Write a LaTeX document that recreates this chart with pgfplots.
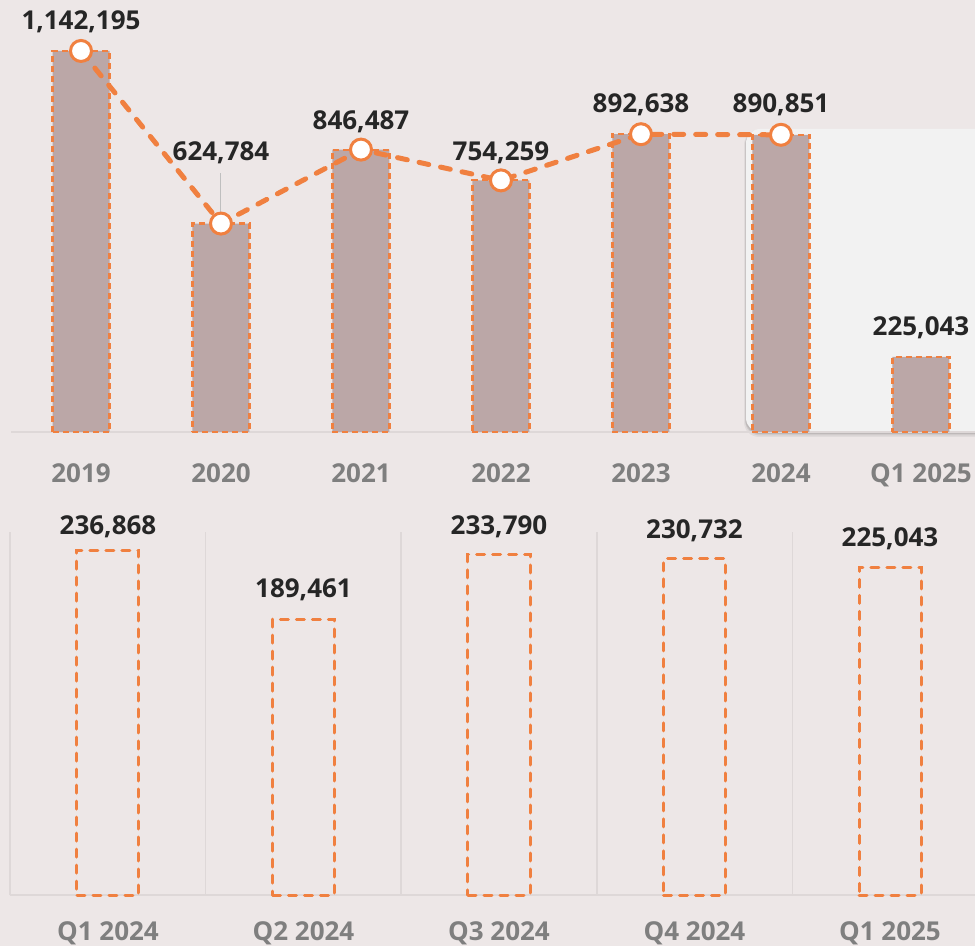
\documentclass[border=0pt]{standalone}
\usepackage{fontspec}
\setmainfont{Open Sans}
\usepackage{pgfplots}
\pgfplotsset{compat=1.18}
\definecolor{bg}{RGB}{237,231,231}
\definecolor{org}{RGB}{240,128,64}
\definecolor{barc}{RGB}{187,167,167}
\definecolor{panel}{RGB}{242,242,242}
\definecolor{tickc}{RGB}{127,127,127}
\definecolor{lab}{RGB}{38,38,38}
\definecolor{sep}{RGB}{222,216,216}
\newcommand{\lf}{\fontsize{26}{31}\selectfont\bfseries}
\begin{document}
\begin{tikzpicture}[x=1pt,y=1pt]
\fill[bg] (0,0) rectangle (975,946);
\path[use as bounding box] (0,0) rectangle (975,946);
% soft shadow of panel
\fill[black, opacity=0.05, rounded corners=15pt] (744,509) rectangle (1000,816);
\fill[black, opacity=0.07, rounded corners=15pt] (745,510.5) rectangle (1000,816);
\fill[black, opacity=0.09, rounded corners=14pt] (745.5,512) rectangle (1000,816.5);
\fill[panel, rounded corners=14pt] (746,514) rectangle (1000,817);
% ---------- top panel ----------
\begin{axis}[at={(0pt,514pt)}, anchor=south west, scale only axis,
  width=975pt, height=432pt, xmin=-0.5786, xmax=6.386, ymin=0, ymax=1295000,
  hide axis, clip=false]
\draw[sep, line width=1.5pt] (axis cs:-0.5,0) -- (axis cs:6.6,0);
\addplot[ybar, bar width=57pt, fill=barc, draw=org, line width=2.2pt, dash pattern=on 6pt off 4pt]
  coordinates {(0,1142195) (1,624784) (2,846487) (3,754259) (4,892638) (5,890851) (6,225043)};
\draw[gray!50, line width=1pt] ([yshift=2pt]axis cs:1,624784) -- ([yshift=51pt]axis cs:1,624784);
\addplot[org, line width=5pt, dash pattern=on 10pt off 12pt, line cap=round,
  mark=*, mark size=10.5pt, mark options={solid, fill=white, draw=org, line width=3pt}]
  coordinates {(0,1142195) (1,624784) (2,846487) (3,754259) (4,892638) (5,890851)};
\node[text=lab, font=\lf] at (axis cs:0,1142195) [yshift=29pt] {1,142,195};
\node[text=lab, font=\lf] at (axis cs:1,624784) [yshift=71pt] {624,784};
\node[text=lab, font=\lf] at (axis cs:2,846487) [yshift=28pt] {846,487};
\node[text=lab, font=\lf] at (axis cs:3,754259) [yshift=28pt] {754,259};
\node[text=lab, font=\lf] at (axis cs:4,892638) [yshift=29pt] {892,638};
\node[text=lab, font=\lf] at (axis cs:5,890851) [yshift=30pt] {890,851};
\node[text=lab, font=\lf] at (axis cs:6,225043) [yshift=29pt] {225,043};
\node[text=tickc, font=\lf, anchor=base] at (axis cs:0,0) [yshift=-51pt] {2019};
\node[text=tickc, font=\lf, anchor=base] at (axis cs:1,0) [yshift=-51pt] {2020};
\node[text=tickc, font=\lf, anchor=base] at (axis cs:2,0) [yshift=-51pt] {2021};
\node[text=tickc, font=\lf, anchor=base] at (axis cs:3,0) [yshift=-51pt] {2022};
\node[text=tickc, font=\lf, anchor=base] at (axis cs:4,0) [yshift=-51pt] {2023};
\node[text=tickc, font=\lf, anchor=base] at (axis cs:5,0) [yshift=-51pt] {2024};
\node[text=tickc, font=\lf, anchor=base] at (axis cs:6,0) [yshift=-51pt] {Q1 2025};
\end{axis}
% ---------- bottom panel ----------
\begin{axis}[at={(0pt,51pt)}, anchor=south west, scale only axis,
  width=975pt, height=405pt, xmin=-0.5524, xmax=4.4348, ymin=0, ymax=278070,
  hide axis, clip=false]
\draw[sep, line width=1.5pt] (axis cs:-0.5,0) -- (axis cs:4.6,0);
\draw[sep, line width=1.5pt] (axis cs:-0.5,0) -- (axis cs:-0.5,249000);
\draw[sep, line width=1.5pt] (axis cs:0.5,0) -- (axis cs:0.5,249000);
\draw[sep, line width=1.5pt] (axis cs:1.5,0) -- (axis cs:1.5,249000);
\draw[sep, line width=1.5pt] (axis cs:2.5,0) -- (axis cs:2.5,249000);
\draw[sep, line width=1.5pt] (axis cs:3.5,0) -- (axis cs:3.5,249000);
\addplot[ybar, bar width=62pt, fill=none, draw=org, line width=3pt, line cap=round, dash pattern=on 8pt off 8pt]
  coordinates {(0,236868) (1,189461) (2,233790) (3,230732) (4,225043)};
\node[text=lab, font=\lf] at (axis cs:0,236868) [yshift=23pt] {236,868};
\node[text=lab, font=\lf] at (axis cs:1,189461) [yshift=29pt] {189,461};
\node[text=lab, font=\lf] at (axis cs:2,233790) [yshift=28pt] {233,790};
\node[text=lab, font=\lf] at (axis cs:3,230732) [yshift=28pt] {230,732};
\node[text=lab, font=\lf] at (axis cs:4,225043) [yshift=28pt] {225,043};
\node[text=tickc, font=\lf, anchor=base] at (axis cs:0,0) [yshift=-45pt] {Q1 2024};
\node[text=tickc, font=\lf, anchor=base] at (axis cs:1,0) [yshift=-45pt] {Q2 2024};
\node[text=tickc, font=\lf, anchor=base] at (axis cs:2,0) [yshift=-45pt] {Q3 2024};
\node[text=tickc, font=\lf, anchor=base] at (axis cs:3,0) [yshift=-45pt] {Q4 2024};
\node[text=tickc, font=\lf, anchor=base] at (axis cs:4,0) [yshift=-45pt] {Q1 2025};
\end{axis}
\end{tikzpicture}
\end{document}
